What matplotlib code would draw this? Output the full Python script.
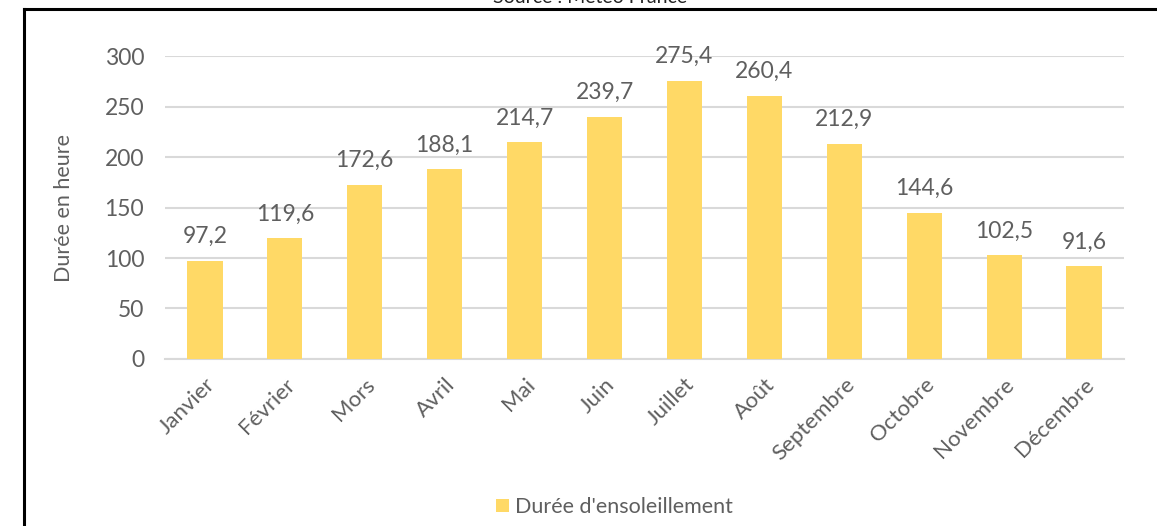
import matplotlib
matplotlib.use("Agg")
import matplotlib.pyplot as plt
from matplotlib.lines import Line2D

mois = ["Janvier", "Février", "Mors", "Avril", "Mai", "Juin", "Juillet",
        "Août", "Septembre", "Octobre", "Novembre", "Décembre"]
duree = [97.2, 119.6, 172.6, 188.1, 214.7, 239.7, 275.4, 260.4, 212.9,
         144.6, 102.5, 91.6]
yticks = [0, 50, 100, 150, 200, 250, 300]

plt.rcParams['font.family'] = ['Lato', 'DejaVu Sans']
gris = "#5f5f5f"
jaune = "#FFD966"

fig = plt.figure(figsize=(11.57, 5.26), dpi=100)
ax = fig.add_axes([0.1426, 0.3175, 0.8289, 0.576])

x = list(range(len(mois)))
ax.bar(x, duree, width=0.44, color=jaune, zorder=3,
       label="Durée d'ensoleillement")
for xi, v in zip(x, duree):
    ax.text(xi, v + 17.5, f"{v:.1f}".replace(".", ","), ha="center",
            va="baseline", fontsize=16.5, color=gris)

ax.set_xlim(-0.5, len(mois) - 0.5)
ax.set_ylim(0, 300)
ax.set_yticks(yticks)
ax.set_yticklabels([str(t) for t in yticks], fontsize=16.5, color=gris)
ax.set_xticks(x)
ax.set_xticklabels(mois, rotation=45, ha="right", rotation_mode="anchor",
                   fontsize=16, color=gris)
ax.tick_params(axis="y", length=0, pad=15)
ax.tick_params(axis="x", length=0, pad=11)
ax.grid(axis="y", color="#D9D9D9", linewidth=1.5, zorder=0)
for s in ["top", "right", "left"]:
    ax.spines[s].set_visible(False)
ax.spines["bottom"].set_color("#D9D9D9")
ax.spines["bottom"].set_linewidth(1.5)
ax.set_ylabel("Durée en heure", fontsize=15.5, color=gris, labelpad=22)

leg = fig.legend(loc="center", bbox_to_anchor=(0.531, 0.036), frameon=False,
                 fontsize=15.5, handlelength=0.6, handleheight=0.6,
                 handletextpad=0.3)
for t in leg.get_texts():
    t.set_color(gris)

fig.text(0.51, 1 - 3 / 526, "Source : Météo France", ha="center",
         va="baseline", fontsize=14, color="#222222")

# cadre
fig.add_artist(Line2D([24 / 1157, 1], [1 - 9 / 526, 1 - 9 / 526],
                      color="black", linewidth=2.2))
fig.add_artist(Line2D([24 / 1157, 24 / 1157], [0, 1 - 9 / 526],
                      color="black", linewidth=2.2))

fig.savefig("out.png", dpi=100)
